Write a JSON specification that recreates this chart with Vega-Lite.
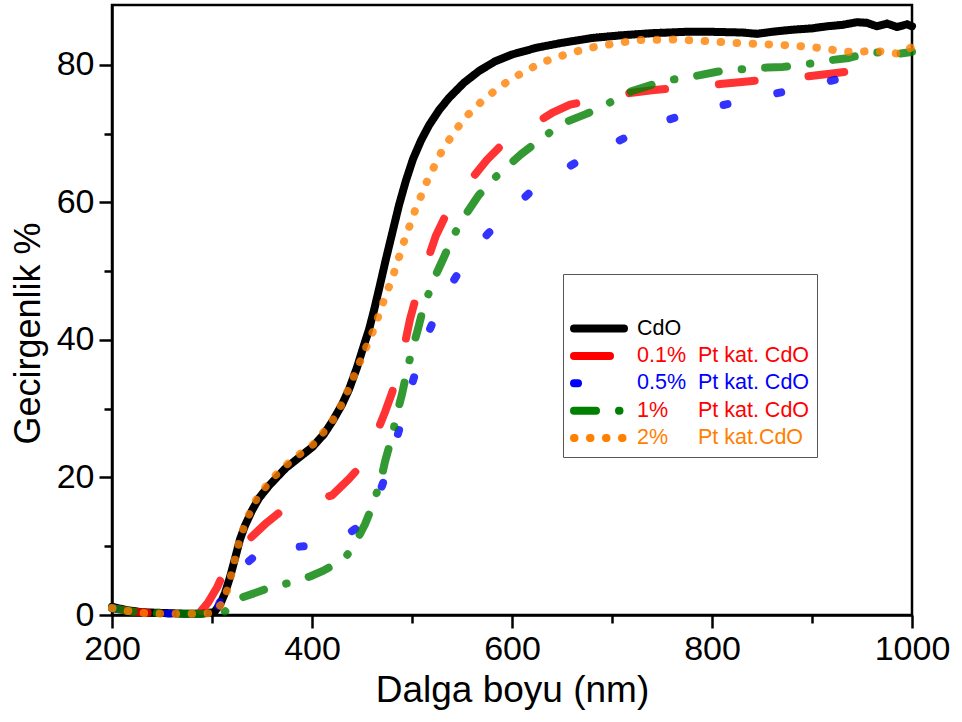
{
  "$schema": "https://vega.github.io/schema/vega-lite/v6.json",
  "autosize": "none",
  "width": 800,
  "height": 610,
  "padding": {"left": 112, "top": 5, "right": 50, "bottom": 107},
  "background": "white",
  "config": {
    "font": "Liberation Sans",
    "view": {"stroke": "black", "strokeWidth": 2.5},
    "axis": {"grid": false, "domainColor": "black", "domainWidth": 2.5, "tickColor": "black", "tickWidth": 2.5, "labelColor": "black", "labelFont": "Liberation Sans", "labelFontSize": 34, "titleFont": "Liberation Sans", "titleFontSize": 36, "titleFontWeight": "normal", "titleColor": "black", "labelOverlap": false, "labelFlush": false}
  },
  "datasets": {
    "spectra": [
      {"s":"CdO","x":200,"y":1.2},{"s":"CdO","x":215,"y":0.7},{"s":"CdO","x":230,"y":0.4},{"s":"CdO","x":250,"y":0.3},{"s":"CdO","x":270,"y":0.2},{"s":"CdO","x":290,"y":0.2},{"s":"CdO","x":302,"y":0.4},{"s":"CdO","x":308,"y":1.5},{"s":"CdO","x":313,"y":3.2},{"s":"CdO","x":318,"y":5.5},{"s":"CdO","x":323,"y":8.2},{"s":"CdO","x":328,"y":11},{"s":"CdO","x":333,"y":13},{"s":"CdO","x":340,"y":15.2},{"s":"CdO","x":347,"y":17},{"s":"CdO","x":357,"y":18.8},{"s":"CdO","x":366,"y":20.2},{"s":"CdO","x":374,"y":21.4},{"s":"CdO","x":388,"y":23},{"s":"CdO","x":401,"y":24.5},{"s":"CdO","x":412,"y":26.3},{"s":"CdO","x":421,"y":28.3},{"s":"CdO","x":430,"y":30.6},{"s":"CdO","x":437,"y":32.8},{"s":"CdO","x":445,"y":36},{"s":"CdO","x":451,"y":38.8},{"s":"CdO","x":457,"y":41.5},{"s":"CdO","x":462,"y":44.3},{"s":"CdO","x":468,"y":48},{"s":"CdO","x":474,"y":51.8},{"s":"CdO","x":481,"y":56},{"s":"CdO","x":487,"y":59.6},{"s":"CdO","x":494,"y":63.2},{"s":"CdO","x":501,"y":66.3},{"s":"CdO","x":509,"y":69},{"s":"CdO","x":517,"y":71.2},{"s":"CdO","x":527,"y":73.4},{"s":"CdO","x":537,"y":75.2},{"s":"CdO","x":552,"y":77.4},{"s":"CdO","x":567,"y":79.1},{"s":"CdO","x":583,"y":80.5},{"s":"CdO","x":600,"y":81.5},{"s":"CdO","x":625,"y":82.5},{"s":"CdO","x":650,"y":83.2},{"s":"CdO","x":680,"y":83.9},{"s":"CdO","x":710,"y":84.3},{"s":"CdO","x":740,"y":84.6},{"s":"CdO","x":774,"y":84.8},{"s":"CdO","x":800,"y":84.8},{"s":"CdO","x":830,"y":84.7},{"s":"CdO","x":845,"y":84.5},{"s":"CdO","x":860,"y":84.8},{"s":"CdO","x":880,"y":85.1},{"s":"CdO","x":900,"y":85.3},{"s":"CdO","x":915,"y":85.6},{"s":"CdO","x":930,"y":85.8},{"s":"CdO","x":945,"y":86.2},{"s":"CdO","x":955,"y":86.1},{"s":"CdO","x":965,"y":85.6},{"s":"CdO","x":975,"y":86.0},{"s":"CdO","x":985,"y":85.5},{"s":"CdO","x":995,"y":85.9},{"s":"CdO","x":1000,"y":85.6},

      {"s":"0.1%","x":200,"y":1.0},{"s":"0.1%","x":220,"y":0.5},{"s":"0.1%","x":240,"y":0.3},{"s":"0.1%","x":260,"y":0.2},{"s":"0.1%","x":280,"y":0.2},{"s":"0.1%","x":288,"y":0.4},{"s":"0.1%","x":296,"y":1.8},{"s":"0.1%","x":305,"y":4},{"s":"0.1%","x":313,"y":6.5},{"s":"0.1%","x":322,"y":8.5},{"s":"0.1%","x":337,"y":11},{"s":"0.1%","x":353,"y":13.2},{"s":"0.1%","x":370,"y":15.2},{"s":"0.1%","x":395,"y":16.3},{"s":"0.1%","x":420,"y":17.4},{"s":"0.1%","x":437,"y":19.8},{"s":"0.1%","x":452,"y":22.2},{"s":"0.1%","x":462,"y":25.5},{"s":"0.1%","x":473,"y":29.5},{"s":"0.1%","x":480,"y":32.3},{"s":"0.1%","x":486,"y":35.2},{"s":"0.1%","x":492,"y":38.8},{"s":"0.1%","x":498,"y":43},{"s":"0.1%","x":504,"y":46.2},{"s":"0.1%","x":509,"y":48.4},{"s":"0.1%","x":516,"y":51.8},{"s":"0.1%","x":524,"y":55.2},{"s":"0.1%","x":534,"y":58.2},{"s":"0.1%","x":545,"y":60.9},{"s":"0.1%","x":560,"y":63.5},{"s":"0.1%","x":575,"y":66.2},{"s":"0.1%","x":590,"y":68.4},{"s":"0.1%","x":605,"y":70},{"s":"0.1%","x":622,"y":71.4},{"s":"0.1%","x":640,"y":73},{"s":"0.1%","x":658,"y":74.2},{"s":"0.1%","x":676,"y":74.8},{"s":"0.1%","x":695,"y":75.3},{"s":"0.1%","x":718,"y":75.9},{"s":"0.1%","x":740,"y":76.3},{"s":"0.1%","x":763,"y":76.6},{"s":"0.1%","x":785,"y":76.9},{"s":"0.1%","x":808,"y":77.2},{"s":"0.1%","x":830,"y":77.5},{"s":"0.1%","x":850,"y":77.8},{"s":"0.1%","x":871,"y":78.0},{"s":"0.1%","x":895,"y":78.3},{"s":"0.1%","x":918,"y":78.7},{"s":"0.1%","x":940,"y":79.1},{"s":"0.1%","x":962,"y":79.6},

      {"s":"0.5%","x":200,"y":1.0},{"s":"0.5%","x":220,"y":0.5},{"s":"0.5%","x":240,"y":0.3},{"s":"0.5%","x":260,"y":0.2},{"s":"0.5%","x":280,"y":0.2},{"s":"0.5%","x":300,"y":0.3},{"s":"0.5%","x":306,"y":1.2},{"s":"0.5%","x":312,"y":3.4},{"s":"0.5%","x":320,"y":5.2},{"s":"0.5%","x":332,"y":7.2},{"s":"0.5%","x":350,"y":9.5},{"s":"0.5%","x":375,"y":9.8},{"s":"0.5%","x":402,"y":10.1},{"s":"0.5%","x":425,"y":11.2},{"s":"0.5%","x":440,"y":12.2},{"s":"0.5%","x":451,"y":13.3},{"s":"0.5%","x":460,"y":15.5},{"s":"0.5%","x":468,"y":18},{"s":"0.5%","x":476,"y":21.2},{"s":"0.5%","x":483,"y":24.8},{"s":"0.5%","x":491,"y":28.9},{"s":"0.5%","x":498,"y":32.6},{"s":"0.5%","x":506,"y":36.5},{"s":"0.5%","x":515,"y":40.5},{"s":"0.5%","x":525,"y":44.1},{"s":"0.5%","x":538,"y":47.8},{"s":"0.5%","x":554,"y":51.5},{"s":"0.5%","x":575,"y":55.3},{"s":"0.5%","x":597,"y":58.7},{"s":"0.5%","x":620,"y":61.7},{"s":"0.5%","x":648,"y":64.4},{"s":"0.5%","x":672,"y":66.5},{"s":"0.5%","x":700,"y":68.5},{"s":"0.5%","x":725,"y":70.2},{"s":"0.5%","x":751,"y":71.8},{"s":"0.5%","x":777,"y":72.9},{"s":"0.5%","x":803,"y":73.9},{"s":"0.5%","x":829,"y":74.7},{"s":"0.5%","x":855,"y":75.5},{"s":"0.5%","x":880,"y":76.4},{"s":"0.5%","x":906,"y":77.2},{"s":"0.5%","x":930,"y":78.1},{"s":"0.5%","x":956,"y":79.1},

      {"s":"1%","x":200,"y":1.0},{"s":"1%","x":220,"y":0.5},{"s":"1%","x":240,"y":0.3},{"s":"1%","x":260,"y":0.2},{"s":"1%","x":280,"y":0.2},{"s":"1%","x":300,"y":0.2},{"s":"1%","x":312,"y":0.4},{"s":"1%","x":320,"y":1.3},{"s":"1%","x":331,"y":2.6},{"s":"1%","x":345,"y":3.3},{"s":"1%","x":360,"y":4.1},{"s":"1%","x":378,"y":4.7},{"s":"1%","x":398,"y":5.6},{"s":"1%","x":412,"y":6.5},{"s":"1%","x":426,"y":7.6},{"s":"1%","x":435,"y":8.7},{"s":"1%","x":442,"y":10.1},{"s":"1%","x":447,"y":11.5},{"s":"1%","x":453,"y":13.2},{"s":"1%","x":458,"y":15},{"s":"1%","x":463,"y":17},{"s":"1%","x":469,"y":19.7},{"s":"1%","x":473,"y":22.3},{"s":"1%","x":477,"y":24.4},{"s":"1%","x":481,"y":26.6},{"s":"1%","x":485,"y":29.3},{"s":"1%","x":490,"y":32.1},{"s":"1%","x":496,"y":36.2},{"s":"1%","x":501,"y":39},{"s":"1%","x":506,"y":41.6},{"s":"1%","x":511,"y":44.5},{"s":"1%","x":516,"y":46.5},{"s":"1%","x":523,"y":49.2},{"s":"1%","x":530,"y":51.4},{"s":"1%","x":542,"y":55.3},{"s":"1%","x":553,"y":58.1},{"s":"1%","x":566,"y":60.9},{"s":"1%","x":578,"y":62.9},{"s":"1%","x":591,"y":64.7},{"s":"1%","x":609,"y":67},{"s":"1%","x":627,"y":69},{"s":"1%","x":641,"y":70.5},{"s":"1%","x":656,"y":71.8},{"s":"1%","x":675,"y":72.9},{"s":"1%","x":695,"y":74.3},{"s":"1%","x":708,"y":75.3},{"s":"1%","x":720,"y":76.2},{"s":"1%","x":740,"y":77.1},{"s":"1%","x":758,"y":77.8},{"s":"1%","x":788,"y":78.5},{"s":"1%","x":805,"y":79},{"s":"1%","x":823,"y":79.3},{"s":"1%","x":855,"y":79.6},{"s":"1%","x":871,"y":79.7},{"s":"1%","x":888,"y":80},{"s":"1%","x":905,"y":80.3},{"s":"1%","x":920,"y":80.7},{"s":"1%","x":937,"y":81},{"s":"1%","x":955,"y":81.7},{"s":"1%","x":968,"y":81.8},{"s":"1%","x":980,"y":81.5},{"s":"1%","x":996,"y":81.8},{"s":"1%","x":1000,"y":81.9},

      {"s":"2%","x":200,"y":1.0},{"s":"2%","x":215,"y":0.6},{"s":"2%","x":230,"y":0.3},{"s":"2%","x":250,"y":0.2},{"s":"2%","x":270,"y":0.2},{"s":"2%","x":290,"y":0.2},{"s":"2%","x":302,"y":0.3},{"s":"2%","x":310,"y":1.7},{"s":"2%","x":316,"y":3.9},{"s":"2%","x":322,"y":7.5},{"s":"2%","x":328,"y":11.2},{"s":"2%","x":335,"y":14},{"s":"2%","x":345,"y":17},{"s":"2%","x":357,"y":19.3},{"s":"2%","x":370,"y":21.3},{"s":"2%","x":385,"y":23.1},{"s":"2%","x":401,"y":24.8},{"s":"2%","x":415,"y":27.2},{"s":"2%","x":425,"y":29.2},{"s":"2%","x":437,"y":33},{"s":"2%","x":450,"y":37.5},{"s":"2%","x":462,"y":41.6},{"s":"2%","x":470,"y":45},{"s":"2%","x":481,"y":49.3},{"s":"2%","x":492,"y":54.3},{"s":"2%","x":503,"y":58.8},{"s":"2%","x":516,"y":63.4},{"s":"2%","x":530,"y":67.5},{"s":"2%","x":543,"y":70.4},{"s":"2%","x":555,"y":72.6},{"s":"2%","x":569,"y":74.6},{"s":"2%","x":585,"y":76.5},{"s":"2%","x":600,"y":78},{"s":"2%","x":616,"y":79.3},{"s":"2%","x":631,"y":80.4},{"s":"2%","x":647,"y":81.2},{"s":"2%","x":663,"y":81.9},{"s":"2%","x":679,"y":82.5},{"s":"2%","x":695,"y":82.9},{"s":"2%","x":711,"y":83.3},{"s":"2%","x":726,"y":83.6},{"s":"2%","x":758,"y":83.7},{"s":"2%","x":790,"y":83.5},{"s":"2%","x":820,"y":83.2},{"s":"2%","x":852,"y":83.0},{"s":"2%","x":882,"y":82.8},{"s":"2%","x":912,"y":82.4},{"s":"2%","x":928,"y":82.0},{"s":"2%","x":944,"y":81.8},{"s":"2%","x":960,"y":82.1},{"s":"2%","x":975,"y":81.8},{"s":"2%","x":988,"y":81.6},{"s":"2%","x":1000,"y":82.6}
    ]
  },
  "data": {"name": "spectra"},
  "encoding": {
    "x": {"field": "x", "type": "quantitative", "title": "Dalga boyu (nm)",
      "scale": {"domain": [200, 1000], "nice": false, "zero": false},
      "axis": {"values": [200,300,400,500,600,700,800,900,1000], "labelExpr": "datum.value % 200 === 0 ? datum.label : ''", "format": "d",
        "tickSize": {"condition": {"test": "datum.value % 200 === 0", "value": 13}, "value": 8}, "labelPadding": 4, "titlePadding": 6, "titleFontSize": 37}},
    "y": {"field": "y", "type": "quantitative", "title": "Gecirgenlik %",
      "scale": {"domain": [0, 88.7], "nice": false, "zero": false},
      "axis": {"values": [0,10,20,30,40,50,60,70,80], "labelExpr": "datum.value % 20 === 0 ? datum.label : ''", "format": "d",
        "tickSize": {"condition": {"test": "datum.value % 20 === 0", "value": 13}, "value": 8}, "labelPadding": 5, "titlePadding": 9, "titleY": 328}},
    "color": {"field": "s", "type": "nominal",
      "scale": {"domain": ["CdO","0.1%","0.5%","1%","2%"], "range": ["#000000","#ff0000","#0000ff","#008000","#ff8000"]},
      "legend": {"title": "\u00a0", "orient": "none", "legendX": 451, "legendY": 269, "padding": 7, "strokeColor": "#555555", "fillColor": "white",
        "titleFontSize": 20, "titlePadding": 16, "symbolType": "stroke", "symbolSize": 2500, "symbolStrokeWidth": 8, "symbolOpacity": 1,
        "labelFont": "Liberation Sans", "labelFontSize": 21.5, "labelLimit": 0, "labelOffset": 9, "clipHeight": 23, "rowPadding": 4.4,
        "labelExpr": "datum.value === '0.1%' ? '0.1%\u00a0\u00a0Pt kat. CdO' : datum.value === '0.5%' ? '0.5%\u00a0\u00a0Pt kat. CdO' : datum.value === '1%' ? '1%\u00a0\u00a0\u00a0\u00a0\u00a0Pt kat. CdO' : datum.value === '2%' ? '2%\u00a0\u00a0\u00a0\u00a0\u00a0Pt kat.CdO' : datum.label",
        "encode": {"symbols": {"update": {"strokeCap": {"value": "round"},
            "strokeDash": {"signal": "datum.value === 'CdO' ? [1,0] : datum.value === '0.1%' ? [39,30] : datum.value === '0.5%' ? [7,60] : datum.value === '1%' ? [28,19,0.5,20] : [0.5,15.2]"}}},
          "labels": {"update": {"fill": {"signal": "datum.value === 'CdO' ? '#000000' : datum.value === '0.5%' ? '#0000ff' : datum.value === '2%' ? '#ff8000' : '#ff0000'"}}}}}},
    "strokeDash": {"field": "s", "type": "nominal",
      "scale": {"domain": ["CdO","0.1%","0.5%","1%","2%"], "range": [[1,0],[36,54],[4,51],[22,23,0.5,23],[0.5,15.5]]},
      "legend": {"title": "\u00a0", "orient": "none", "legendX": 451, "legendY": 269}}
  },
  "layer": [
    {"transform": [{"filter": "datum.s === 'CdO'"}], "mark": {"type": "line", "strokeWidth": 8, "strokeCap": "round", "strokeJoin": "round", "opacity": 1}},
    {"transform": [{"filter": "datum.s === '0.1%'"}], "mark": {"type": "line", "strokeWidth": 8, "strokeCap": "round", "strokeJoin": "round", "opacity": 0.8}},
    {"transform": [{"filter": "datum.s === '0.5%'"}], "mark": {"type": "line", "strokeWidth": 8, "strokeCap": "round", "strokeJoin": "round", "opacity": 0.8}},
    {"transform": [{"filter": "datum.s === '1%'"}], "mark": {"type": "line", "strokeWidth": 8, "strokeCap": "round", "strokeJoin": "round", "opacity": 0.8}},
    {"transform": [{"filter": "datum.s === '2%'"}], "mark": {"type": "line", "strokeWidth": 8, "strokeCap": "round", "strokeJoin": "round", "opacity": 0.8}}
  ]
}
